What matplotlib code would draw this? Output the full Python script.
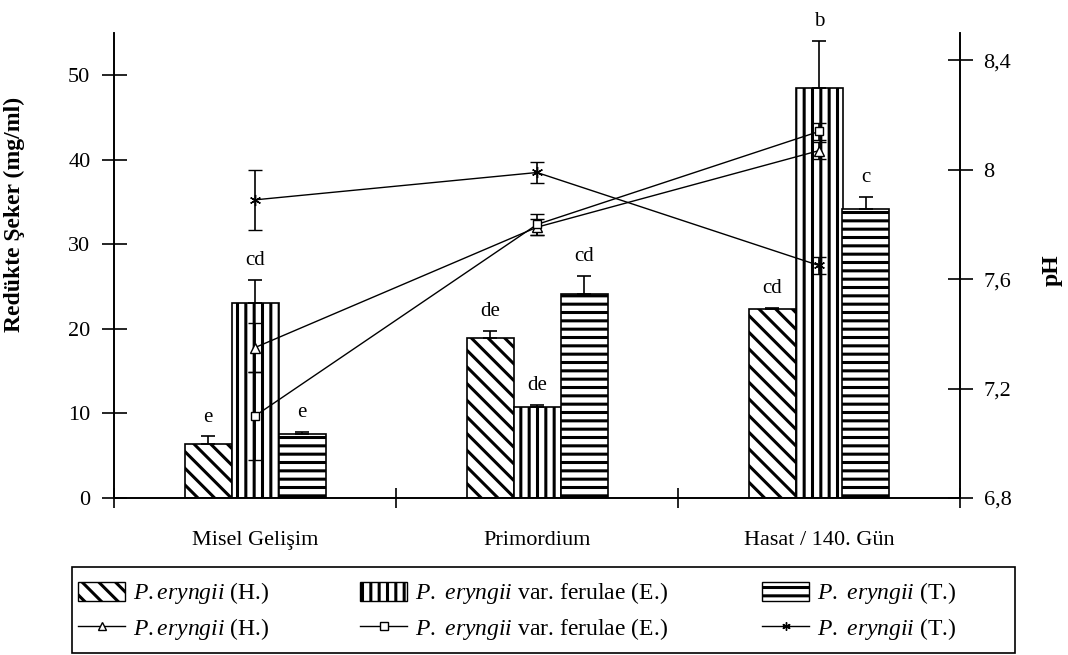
import numpy as np
import matplotlib
matplotlib.use("Agg")
import matplotlib.pyplot as plt
from matplotlib.lines import Line2D
from matplotlib.patches import Patch, Rectangle

plt.rcParams['font.family'] = ['Liberation Serif', 'DejaVu Serif']
plt.rcParams['mathtext.fontset'] = 'custom'
plt.rcParams['mathtext.rm'] = 'Liberation Serif'
plt.rcParams['mathtext.it'] = 'Liberation Serif:italic'
plt.rcParams['hatch.linewidth'] = 2.2

# data
categories = ["Misel Gelişim", "Primordium", "Hasat / 140. Gün"]

sugar_H = [6.4, 18.9, 22.3]
sugar_E = [23.1, 10.8, 48.5]
sugar_T = [7.6, 24.1, 34.2]
sugar_H_err = [0.9, 0.9, 0.2]
sugar_E_err = [2.7, 0.2, 5.6]
sugar_T_err = [0.2, 2.2, 1.4]
letters_H = ["e", "de", "cd"]
letters_E = ["cd", "de", "b"]
letters_T = ["e", "cd", "c"]

ph_H = [7.35, 7.79, 8.07]
ph_E = [7.10, 7.80, 8.14]
ph_T = [7.89, 7.99, 7.65]
ph_H_err = [0.09, 0.03, 0.03]
ph_E_err = [0.16, 0.04, 0.03]
ph_T_err = [0.11, 0.04, 0.03]

lab_bar = [r"$\mathit{P.eryngii}$ (H.)",
           r"$\mathit{P.\ eryngii}$ var. ferulae (E.)",
           r"$\mathit{P.\ eryngii}$ (T.)"]
lab_line = [r"$\mathit{P.eryngii}$ (H.)",
            r"$\mathit{P.\ eryngii}$ var. ferulae (E.)",
            r"$\mathit{P.\ eryngii}$ (T.)"]

fig = plt.figure(figsize=(10.68, 6.55), dpi=100)
ax = fig.add_axes([114 / 1068, 1 - 498 / 655, 846 / 1068, 465 / 655])
ax2 = ax.twinx()

x = np.arange(len(categories))
w = 1 / 6
hatches = ['\\\\', '||', '--']
bar_sets = [(sugar_H, sugar_H_err, letters_H), (sugar_E, sugar_E_err, letters_E),
            (sugar_T, sugar_T_err, letters_T)]
for i, (vals, errs, lets) in enumerate(bar_sets):
    xs = x + (i - 1) * w
    ax.bar(xs, vals, w, color='white', edgecolor='black', hatch=hatches[i], linewidth=1.2)
    ax.errorbar(xs, vals, yerr=[np.zeros(3), errs], fmt='none', ecolor='black',
                elinewidth=1.2, capsize=5, capthick=1.2)
    for xi, v, e, t in zip(xs, vals, errs, lets):
        ax.annotate(t, (xi, v + e), xytext=(0, 7), textcoords='offset points',
                    ha='center', va='bottom', fontsize=15)

ax.set_xlim(-0.5, 2.5)
ax.set_ylim(0, 55)
ax.set_yticks([0, 10, 20, 30, 40, 50])
ax.set_xticks([-0.5, 0.5, 1.5, 2.5])
ax.set_xticklabels([])
ax.set_xticks(x, minor=True)
ax.set_xticklabels(categories, minor=True, fontsize=16)
ax.tick_params(axis='x', which='minor', length=0, pad=24)
ax.tick_params(axis='x', which='major', direction='inout', length=14, width=1.2)
ax.tick_params(axis='y', direction='inout', length=18, width=1.2, labelsize=16, pad=8)
ax.set_ylabel("Redükte Şeker (mg/ml)", fontsize=17, fontweight='bold')
ax.yaxis.set_label_coords(-0.105, 0.61)

# pH lines on the right axis
ms = 7
ax2.errorbar(x, ph_H, yerr=ph_H_err, color='black', lw=1, marker='^', ms=ms,
             mfc='white', mec='black', capsize=5, elinewidth=1.2)
ax2.errorbar(x, ph_E, yerr=ph_E_err, color='black', lw=1, marker='s', ms=ms - 1,
             mfc='white', mec='black', capsize=5, elinewidth=1.2)
ax2.errorbar(x, ph_T, yerr=ph_T_err, color='black', lw=1, marker=(6, 2, 0), ms=ms + 1,
             mec='black', capsize=5, elinewidth=1.2)
ax2.set_ylim(6.8, 8.5)
ax2.set_yticks([6.8, 7.2, 7.6, 8.0, 8.4])
ax2.set_yticklabels(["6,8", "7,2", "7,6", "8", "8,4"])
ax2.tick_params(axis='y', direction='inout', length=18, width=1.2, labelsize=16, pad=8)
ax2.set_ylabel("pH", fontsize=17, fontweight='bold', rotation=90)
ax2.yaxis.set_label_coords(1.097, 0.49)

for a in (ax, ax2):
    a.spines['top'].set_visible(False)
    for s in ('left', 'right', 'bottom'):
        a.spines[s].set_linewidth(1.2)

# legend: box + one two-row legend per column
fig.patches.append(Rectangle((72 / 1068, 1 - 653 / 655), 943 / 1068, 86 / 655,
                             transform=fig.transFigure, fill=False,
                             edgecolor='black', linewidth=1.2))
col_x = [78, 360, 762]
mk = ['^', 's', (6, 2, 0)]
for i in range(3):
    h = [Patch(facecolor='white', edgecolor='black', hatch=hatches[i]),
         Line2D([], [], color='black', lw=1, marker=mk[i], ms=6,
                mfc='white' if i < 2 else 'black', mec='black')]
    lg = fig.legend(h, [lab_bar[i], lab_line[i]], loc='center left',
                    bbox_to_anchor=(col_x[i] / 1068, 1 - 611 / 655),
                    bbox_transform=fig.transFigure, frameon=False, fontsize=17,
                    handlelength=2.0, handleheight=0.85, handletextpad=0.35,
                    borderpad=0, borderaxespad=0, labelspacing=0.4)

fig.savefig("out.png", dpi=100)
